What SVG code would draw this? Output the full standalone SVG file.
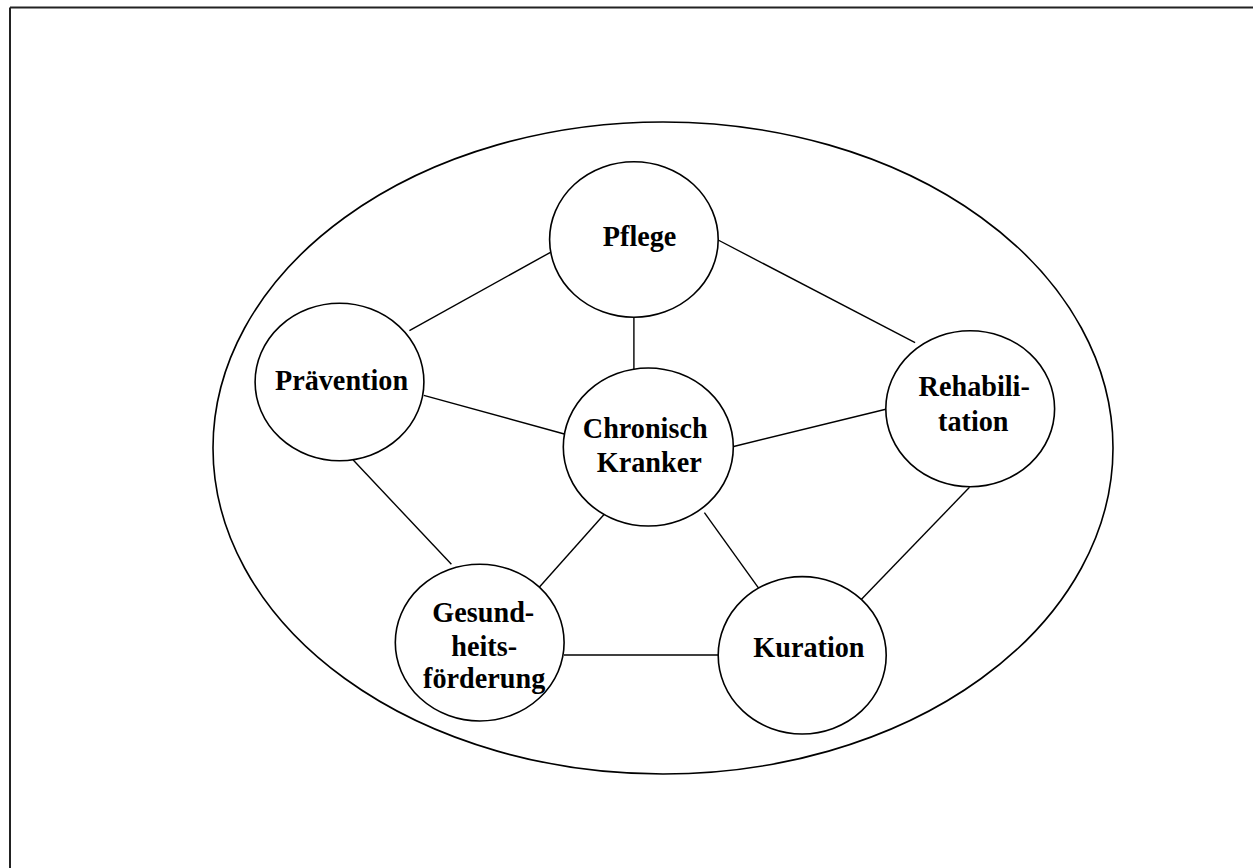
<svg xmlns="http://www.w3.org/2000/svg" width="1253" height="868" viewBox="0 0 1253 868">
<style>
.node{fill:#fff;stroke:#000;stroke-width:1.6}
.edge{stroke:#000;stroke-width:1.4;fill:none}
.lbl{font-family:"Liberation Serif","Times New Roman",serif;font-weight:bold;font-size:30px;fill:#000;text-anchor:middle}
</style>
<rect width="1253" height="868" fill="#fff"/>
<g id="frame">
<line x1="10" y1="7.5" x2="1253" y2="7.5" stroke="#222" stroke-width="2"/>
<line x1="10" y1="7.5" x2="10" y2="868" stroke="#222" stroke-width="2"/>
</g>
<g id="outer">
<ellipse cx="663" cy="448" rx="450" ry="326" fill="none" stroke="#000" stroke-width="1.6"/>
</g>
<g id="connectors">
<line class="edge" x1="409.4" y1="330.7" x2="550.5" y2="252.3"/>
<line class="edge" x1="633.9" y1="317.3" x2="633.9" y2="369.3"/>
<line class="edge" x1="423.8" y1="395.3" x2="564.3" y2="434"/>
<line class="edge" x1="353.2" y1="460" x2="451.4" y2="564.3"/>
<line class="edge" x1="605.6" y1="512.7" x2="536.8" y2="590"/>
<line class="edge" x1="704.4" y1="512.7" x2="759.5" y2="589.3"/>
<line class="edge" x1="969.5" y1="487.3" x2="858.6" y2="602.3"/>
<line class="edge" x1="564" y1="655" x2="718" y2="655"/>
<line class="edge" x1="718.1" y1="240" x2="915.1" y2="342.7"/>
<line class="edge" x1="732.6" y1="446.7" x2="885.8" y2="409.3"/>
</g>
<g id="pflege">
<ellipse class="node" cx="633.9" cy="239.5" rx="84.3" ry="77.8"/>
<text class="lbl" transform="translate(639.6 246) scale(0.94 1)">Pflege</text>
</g>
<g id="praevention">
<ellipse class="node" cx="339.5" cy="382" rx="84.4" ry="78.7"/>
<text class="lbl" transform="translate(341.5 390) scale(0.94 1)">Prävention</text>
</g>
<g id="chronisch">
<ellipse class="node" cx="648.3" cy="447" rx="85" ry="79"/>
<text class="lbl" transform="translate(645.2 438.3) scale(0.94 1)">Chronisch</text>
<text class="lbl" transform="translate(649.3 472.3) scale(0.94 1)">Kranker</text>
</g>
<g id="rehabilitation">
<ellipse class="node" cx="970.2" cy="408.7" rx="84.4" ry="78"/>
<text class="lbl" transform="translate(974.2 396) scale(0.94 1)">Rehabili-</text>
<text class="lbl" transform="translate(973.3 430.7) scale(0.94 1)">tation</text>
</g>
<g id="gesundheit">
<ellipse class="node" cx="479.7" cy="642.6" rx="84.4" ry="78.4"/>
<text class="lbl" transform="translate(483.3 621.7) scale(0.94 1)">Gesund-</text>
<text class="lbl" transform="translate(484.2 656) scale(0.94 1)">heits-</text>
<text class="lbl" transform="translate(484.2 688.3) scale(0.94 1)">förderung</text>
</g>
<g id="kuration">
<ellipse class="node" cx="802.2" cy="655.3" rx="84" ry="78.7"/>
<text class="lbl" transform="translate(808.9 657.3) scale(0.94 1)">Kuration</text>
</g>
</svg>
